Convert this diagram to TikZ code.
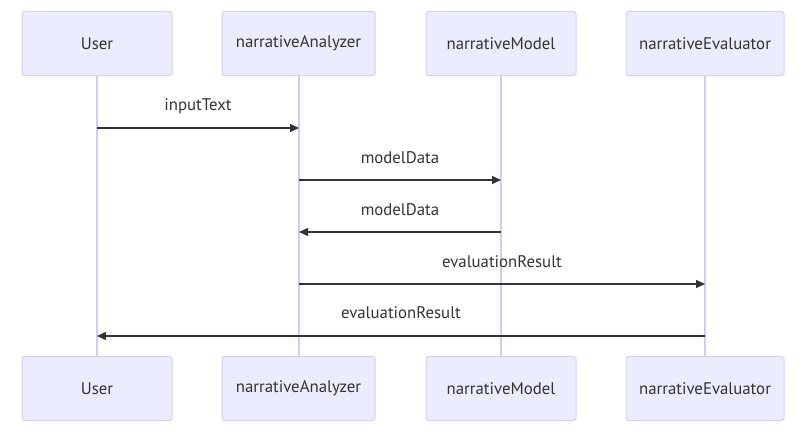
\documentclass[tikz,border=0pt]{standalone}
\usepackage{fontspec}
\setmainfont{PT Sans}
\usetikzlibrary{arrows.meta}
\definecolor{actfill}{HTML}{ECECFF}
\definecolor{actdraw}{HTML}{D6CFF5}
\definecolor{lifeln}{HTML}{D4CBF2}
\definecolor{msgcol}{HTML}{333333}

\begin{document}
\begin{tikzpicture}[x=1pt,y=-1pt,
  actor/.style={rectangle,draw=actdraw,fill=actfill,line width=1pt,rounded corners=2.5pt,
    minimum height=64pt,inner sep=0pt,font=\fontsize{16.8}{19}\selectfont,text=msgcol},
  life/.style={draw=lifeln,line width=1.4pt},
  msg/.style={draw=msgcol,line width=1.4pt,-{Triangle[length=9pt,width=8pt]}},
  lbl/.style={font=\fontsize{16.8}{19}\selectfont,text=msgcol,inner sep=0pt}]
\useasboundingbox (0,0) rectangle (803,431);
% actors, top row and bottom row
\node[actor,minimum width=150pt] (u)  at (97,43.5) {User};
\node[actor,minimum width=153pt] (an) at (298.5,43.5) {narrativeAnalyzer};
\node[actor,minimum width=150pt] (mo) at (501,43.5) {narrativeModel};
\node[actor,minimum width=158pt] (ev) at (705,43.5) {narrativeEvaluator};
\node[actor,minimum width=150pt] (ub)  at (97,388.5) {User};
\node[actor,minimum width=153pt] (anb) at (298.5,388.5) {narrativeAnalyzer};
\node[actor,minimum width=150pt] (mob) at (501,388.5) {narrativeModel};
\node[actor,minimum width=158pt] (evb) at (705,388.5) {narrativeEvaluator};
% lifelines
\draw[life] (u) -- (ub);
\draw[life] ([xshift=0.5pt]an.south) -- ([xshift=0.5pt]anb.north);
\draw[life] (mo) -- (mob);
\draw[life] (ev) -- (evb);
% message ends
\coordinate (u1) at (97,128);  \coordinate (a1) at (299,128);
\coordinate (a2) at (299,180); \coordinate (m2) at (501,180);
\coordinate (m3) at (501,232); \coordinate (a3) at (299,232);
\coordinate (a4) at (299,284); \coordinate (e4) at (705,284);
\coordinate (e5) at (705,336); \coordinate (u5) at (97,336);
% messages
\draw[msg] (u1) -- (a1);
\draw[msg] (a2) -- (m2);
\draw[msg] (m3) -- (a3);
\draw[msg] (a4) -- (e4);
\draw[msg] (e5) -- (u5);
\node[lbl] (t1) at (198,106) {inputText};
\node[lbl] (t2) at (400,158) {modelData};
\node[lbl] (t3) at (400,210) {modelData};
\node[lbl] (t4) at (502,262) {evaluationResult};
\node[lbl] (t5) at (401,313) {evaluationResult};
\end{tikzpicture}
\end{document}
